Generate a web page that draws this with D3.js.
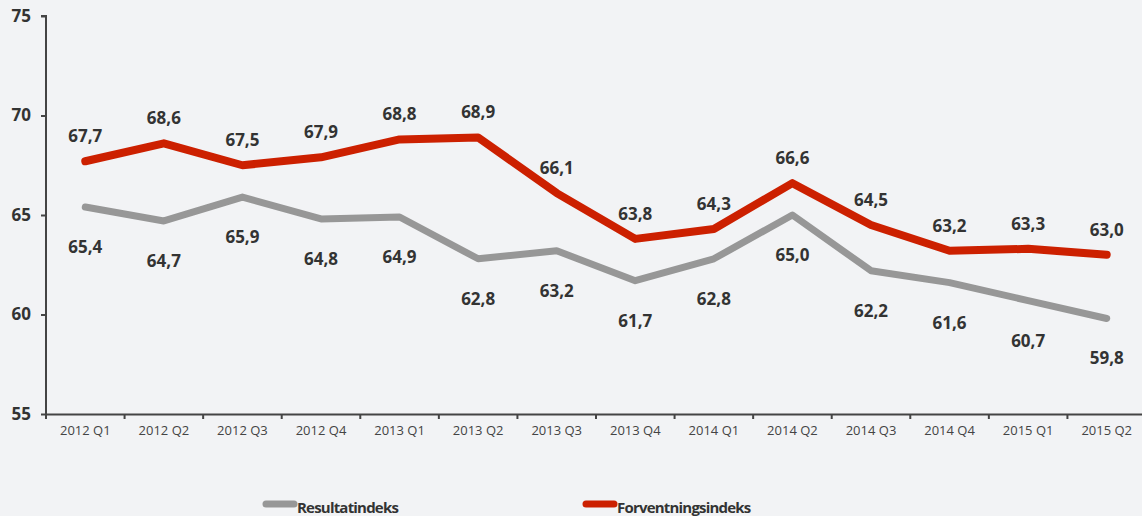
<!DOCTYPE html>
<html>
<head>
<meta charset="utf-8">
<script src="https://cdn.jsdelivr.net/npm/d3@7"></script>
<style>
  body { margin: 0; background: #f2f3f5; }
  svg { display: block; font-family: "Open Sans", "Noto Sans", sans-serif; }
</style>
</head>
<body>
<svg id="chart" width="1142" height="516"></svg>
<script>
const quarters = ["2012 Q1", "2012 Q2", "2012 Q3", "2012 Q4", "2013 Q1", "2013 Q2", "2013 Q3",
    "2013 Q4", "2014 Q1", "2014 Q2", "2014 Q3", "2014 Q4", "2015 Q1", "2015 Q2"];
const resultat = [65.4, 64.7, 65.9, 64.8, 64.9, 62.8, 63.2, 61.7, 62.8, 65.0, 62.2, 61.6, 60.7, 59.8];
const forventning = [67.7, 68.6, 67.5, 67.9, 68.8, 68.9, 66.1, 63.8, 64.3, 66.6, 64.5, 63.2, 63.3, 63.0];
const yTicks = [55, 60, 65, 70, 75];

const series = [
    { name: "Resultatindeks", values: resultat, color: "#979797", width: 7, below: true },
    { name: "Forventningsindeks", values: forventning, color: "#cc2000", width: 8, below: false }
];

const svg = d3.select("#chart");
const fmt = v => d3.format(".1f")(v).replace(".", ",");

const x = d3.scaleBand().domain(quarters).range([46, 1146]);
const y = d3.scaleLinear().domain([55, 75]).range([414, 16]);

// axes
const xAxis = svg.append("g")
    .attr("transform", "translate(0,414)")
    .call(d3.axisBottom(x).tickSize(0).tickPadding(12))
    .attr("font-family", null);
xAxis.select(".domain").attr("stroke", "#444").attr("stroke-width", 2);
xAxis.selectAll("text").attr("font-size", 13).attr("fill", "#444");

// tick marks between categories
svg.append("g").selectAll("line")
    .data(quarters)
    .join("line")
    .attr("x1", d => x(d)).attr("x2", d => x(d))
    .attr("y1", 414).attr("y2", 419)
    .attr("stroke", "#444").attr("stroke-width", 2);

const yAxis = svg.append("g")
    .attr("transform", "translate(46,0)")
    .call(d3.axisLeft(y).tickValues(yTicks).tickSize(5).tickPadding(10))
    .attr("font-family", null);
yAxis.select(".domain").attr("stroke", "#444").attr("stroke-width", 2).attr("d", "M0,414V16H-5");
yAxis.selectAll(".tick line").attr("stroke", "#444").attr("stroke-width", 2);
yAxis.selectAll("text").attr("font-size", 17).attr("font-weight", "bold").attr("fill", "#333");

const line = d3.line()
    .x((d, i) => x(quarters[i]) + x.bandwidth() / 2)
    .y(d => y(d));

series.forEach(s => {
    svg.append("path")
        .datum(s.values)
        .attr("d", line)
        .attr("fill", "none")
        .attr("stroke", s.color)
        .attr("stroke-width", s.width)
        .attr("stroke-linejoin", "round")
        .attr("stroke-linecap", "round");

    svg.append("g").selectAll("text")
        .data(s.values)
        .join("text")
        .attr("x", (d, i) => x(quarters[i]) + x.bandwidth() / 2)
        .attr("y", d => y(d) + (s.below ? 46 : -19))
        .attr("text-anchor", "middle")
        .attr("font-size", 17)
        .attr("font-weight", "bold")
        .attr("fill", "#333")
        .text(fmt);
});

// legend
const legend = svg.append("g");
[[263, series[0]], [583, series[1]]].forEach(([lx, s]) => {
    legend.append("line")
        .attr("x1", lx + 3).attr("x2", lx + 31)
        .attr("y1", 504).attr("y2", 504)
        .attr("stroke", s.color).attr("stroke-width", 7)
        .attr("stroke-linecap", "round");
    legend.append("text")
        .attr("x", lx + 34).attr("y", 513)
        .attr("font-size", 15).attr("font-weight", "bold")
        .attr("letter-spacing", -0.8)
        .attr("fill", "#333")
        .text(s.name);
});
</script>
</body>
</html>
